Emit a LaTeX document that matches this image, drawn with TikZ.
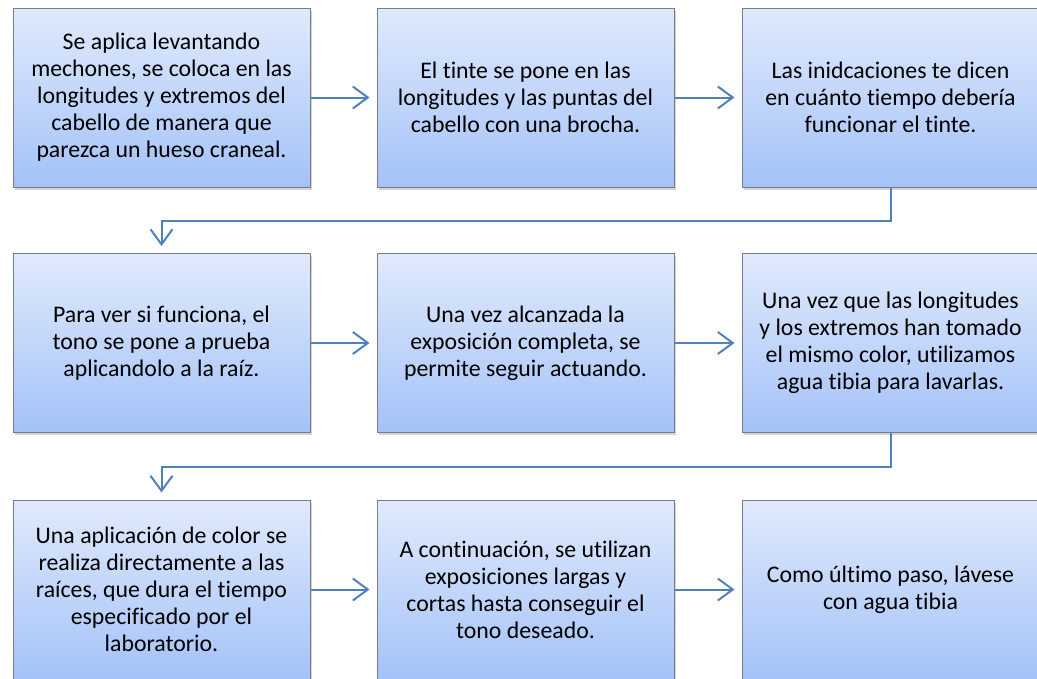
\documentclass[tikz,border=0pt]{standalone}
\usepackage{fontspec}
\setmainfont{Carlito}[Ligatures={NoCommon}]
\usepackage{xcolor}
\usepackage{tikz}
\usetikzlibrary{arrows.meta,shadows}

\definecolor{boxtop}{RGB}{224,234,252}
\definecolor{boxbot}{RGB}{164,194,248}
\definecolor{boxline}{RGB}{118,124,136}
\definecolor{flowblue}{RGB}{79,129,189}

\begin{document}
\begin{tikzpicture}[x=1pt, y=1pt,
		stepbox/.style={rectangle, draw=boxline, line width=1pt, top color=boxtop, bottom color=boxbot,
			minimum width=297pt, minimum height=179pt, inner sep=0pt, align=center,
			font=\fontsize{23.8}{27}\selectfont,
			drop shadow={shadow xshift=2pt, shadow yshift=-2.5pt, opacity=0.35}},
		flow/.style={draw=flowblue, line width=2pt, -{Straight Barb[length=15pt, width=22pt, line width=2pt]}, shorten >=7pt}]
				%\tikzstyle{every node}=[font=\small];
				\useasboundingbox (0, 0) rectangle (1037, -678);
				
				%Row 1
				\node[stepbox] (aplica) at (161.5, -97.5) {Se aplica levantando\\ mechones, se coloca en las\\ longitudes y extremos del\\ cabello de manera que\\ parezca un hueso craneal.};
				\node[stepbox] (tinte) at (525.5, -97.5) {El tinte se pone en las\\ longitudes y las puntas del\\ cabello con una brocha.};
				\node[stepbox] (indica) at (890.5, -97.5) {Las inidcaciones te dicen\\ en cuánto tiempo debería\\ funcionar el tinte.};
				
				%Row 2
				\node[stepbox] (prueba) at (161.5, -343) {Para ver si funciona, el\\ tono se pone a prueba\\ aplicandolo a la raíz.};
				\node[stepbox] (expo) at (525.5, -343) {Una vez alcanzada la\\ exposición completa, se\\ permite seguir actuando.};
				\node[stepbox] (lavar) at (890.5, -343) {Una vez que las longitudes\\ y los extremos han tomado\\ el mismo color, utilizamos\\ agua tibia para lavarlas.};
				
				%Row 3
				\node[stepbox] (raiz) at (161.5, -589.5) {Una aplicación de color se\\ realiza directamente a las\\ raíces, que dura el tiempo\\ especificado por el\\ laboratorio.};
				\node[stepbox] (largas) at (525.5, -589.5) {A continuación, se utilizan\\ exposiciones largas y\\ cortas hasta conseguir el\\ tono deseado.};
				\node[stepbox] (ultimo) at (890.5, -589.5) {Como último paso, lávese\\ con agua tibia};
				
				%Lines
				\draw[flow] (aplica) -- (tinte);
				\draw[flow] (tinte) -- (indica);
				\draw[flow] (indica.south) -- ++(0, -33) -| (prueba.north);
				\draw[flow] (prueba) -- (expo);
				\draw[flow] (expo) -- (lavar);
				\draw[flow] (lavar.south) -- ++(0, -33.5) -| (raiz.north);
				\draw[flow] (raiz) -- (largas);
				\draw[flow] (largas) -- (ultimo);
			\end{tikzpicture}
\end{document}
